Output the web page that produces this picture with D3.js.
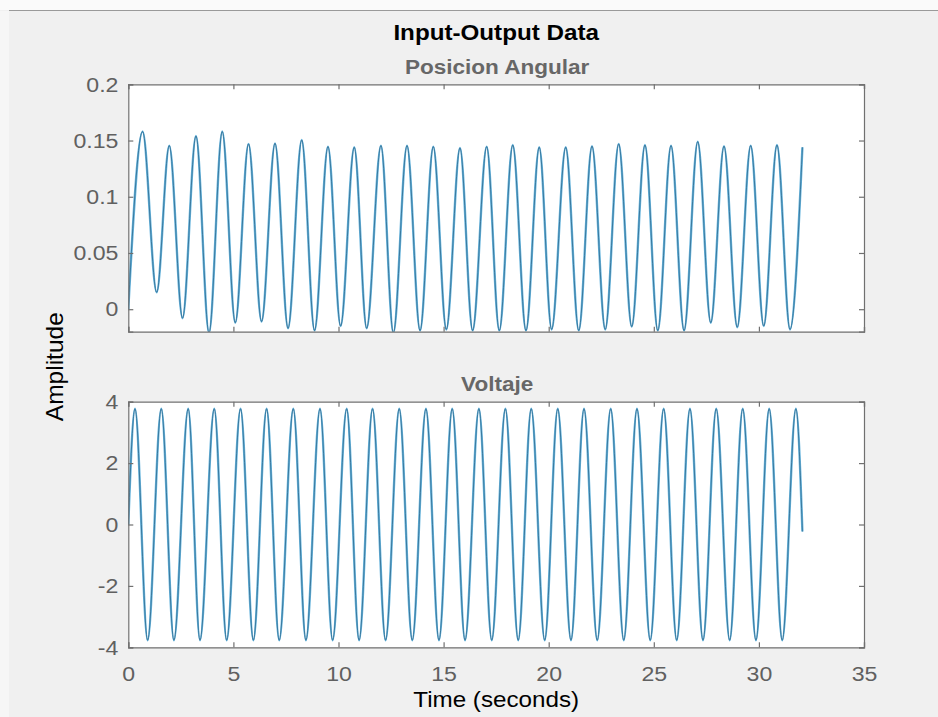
<!DOCTYPE html>
<html>
<head>
<meta charset="utf-8">
<script src="https://cdn.jsdelivr.net/npm/d3@7"></script>
<style>
  body { margin: 0; background: #f0f0f0; }
  svg { display: block; }
  text { font-family: "Liberation Sans", Arial, sans-serif; }
</style>
</head>
<body>
<svg></svg>
<script>
// x axis ticks (shared)
var timeTicks = [0, 5, 10, 15, 20, 25, 30, 35];

// Posicion Angular: start, peaks/troughs, end
var posTime = [0, 0.68, 1.35, 1.95, 2.58, 3.22, 3.84, 4.47, 5.09, 5.72, 6.34, 6.98, 7.60, 8.25, 8.86, 9.50, 10.10, 10.75, 11.34, 12.02, 12.61, 13.26, 13.88, 14.51, 15.13, 15.78, 16.38, 17.05, 17.65, 18.29, 18.92, 19.55, 20.14, 20.81, 21.43, 22.06, 22.69, 23.33, 23.95, 24.58, 25.19, 25.82, 26.44, 27.09, 27.71, 28.34, 28.97, 29.61, 30.23, 30.86, 31.48, 32.07];
var posValue = [0, 0.158, 0.015, 0.1455, -0.008, 0.154, -0.021, 0.158, -0.012, 0.147, -0.011, 0.1475, -0.017, 0.1505, -0.019, 0.1446, -0.015, 0.144, -0.017, 0.1455, -0.021, 0.1455, -0.019, 0.1446, -0.018, 0.1434, -0.019, 0.1446, -0.019, 0.146, -0.019, 0.144, -0.018, 0.144, -0.019, 0.145, -0.018, 0.147, -0.0155, 0.146, -0.019, 0.1455, -0.019, 0.149, -0.012, 0.145, -0.016, 0.1455, -0.015, 0.146, -0.018, 0.144];
var posTicks = [0, 0.05, 0.1, 0.15, 0.2];
var posTickLabels = ["0", "0.05", "0.1", "0.15", "0.2"];

// Voltaje: start, peaks/troughs, end
var volTime = [0, 0.32, 0.92, 1.57, 2.17, 2.85, 3.41, 4.09, 4.68, 5.34, 5.95, 6.58, 7.18, 7.85, 8.45, 9.12, 9.72, 10.39, 10.98, 11.62, 12.24, 12.89, 13.51, 14.16, 14.78, 15.41, 16.02, 16.68, 17.29, 17.94, 18.55, 19.17, 19.81, 20.43, 21.06, 21.68, 22.31, 22.95, 23.57, 24.20, 24.83, 25.47, 26.09, 26.72, 27.34, 27.97, 28.61, 29.23, 29.86, 30.49, 31.11, 31.76, 32.07];
var volValue = [0, 3.77, -3.77, 3.77, -3.77, 3.77, -3.77, 3.77, -3.77, 3.77, -3.77, 3.77, -3.77, 3.77, -3.77, 3.77, -3.77, 3.77, -3.77, 3.77, -3.77, 3.77, -3.77, 3.77, -3.77, 3.77, -3.77, 3.77, -3.77, 3.77, -3.77, 3.77, -3.77, 3.77, -3.77, 3.77, -3.77, 3.77, -3.77, 3.77, -3.77, 3.77, -3.77, 3.77, -3.77, 3.77, -3.77, 3.77, -3.77, 3.77, -3.77, 3.77, -0.23];
var volTicks = [-4, -2, 0, 2, 4];

var screen = { width: 938, height: 717 };

var plotLeft = 128.3;
var plotRight = 864;
var topPlot = { top: 84.3, bottom: 331.7 };
var botPlot = { top: 401.7, bottom: 647.3 };

var axisGray = "#707070";
var textGray = "#606060";
var stretch = "scale(1.1,1)"; //reference text is a bit wider than Liberation Sans

var svg = d3.select("svg")
            .attr("width", screen.width)
            .attr("height", screen.height);

// window chrome at top + light strip at left
svg.append("rect").attr("x", 0).attr("y", 0).attr("width", screen.width).attr("height", 10).attr("fill", "#fafafa");
svg.append("line").attr("x1", 9).attr("x2", screen.width).attr("y1", 10.5).attr("y2", 10.5)
   .attr("stroke", "#9a9a9a").attr("stroke-width", 1);
svg.append("rect").attr("x", 0).attr("y", 11).attr("width", 9).attr("height", screen.height).attr("fill", "#f6f6f6");

var xScale = d3.scaleLinear()
               .domain([0, 35])
               .range([plotLeft, plotRight]);

var drawPanel = function(panel, yDomain, yTicks, yLabels, times, values, name, showX)
{
  var yScale = d3.scaleLinear()
                 .domain(yDomain)
                 .range([panel.bottom, panel.top]);

  svg.append("rect")
     .attr("x", plotLeft)
     .attr("y", panel.top)
     .attr("width", plotRight - plotLeft)
     .attr("height", panel.bottom - panel.top)
     .attr("fill", "#ffffff");

  svg.append("clipPath")
     .attr("id", "clip-" + name)
     .append("rect")
     .attr("x", plotLeft)
     .attr("y", panel.top)
     .attr("width", plotRight - plotLeft)
     .attr("height", panel.bottom - panel.top);

  var points = times.map(function(t, i) {return [t, values[i]];});

  var line = d3.line()
               .x(function(d) {return xScale(d[0]);})
               .y(function(d) {return yScale(d[1]);})
               .curve(d3.curveMonotoneX);

  var g = svg.append("g").attr("clip-path", "url(#clip-" + name + ")");

  //light blue body
  g.append("path")
   .datum(points)
   .attr("d", line)
   .attr("fill", "none")
   .attr("stroke", "#6ab6de")
   .attr("stroke-width", 2.4);

  //dark core
  g.append("path")
   .datum(points)
   .attr("d", line)
   .attr("fill", "none")
   .attr("stroke", "#2d6a8e")
   .attr("stroke-width", 0.8);

  //axes, ticks point inward
  var bottomAxis = d3.axisBottom(xScale).tickValues(timeTicks).tickSize(-5).tickPadding(10);
  if (!showX) bottomAxis.tickFormat("");
  var topAxis = d3.axisTop(xScale).tickValues(timeTicks).tickSize(-5).tickFormat("");
  var leftAxis = d3.axisLeft(yScale).tickValues(yTicks).tickSize(-5).tickPadding(9)
                   .tickFormat(function(d, i) {return yLabels[i];});
  var rightAxis = d3.axisRight(yScale).tickValues(yTicks).tickSize(-5).tickFormat("");

  var axes = [
    [bottomAxis, "translate(0," + panel.bottom + ")"],
    [topAxis, "translate(0," + panel.top + ")"],
    [leftAxis, "translate(" + plotLeft + ",0)"],
    [rightAxis, "translate(" + plotRight + ",0)"]
  ];

  axes.forEach(function(a) {
    var ag = svg.append("g")
                .attr("transform", a[1])
                .call(a[0]);
    ag.select(".domain").attr("stroke", axisGray).attr("stroke-width", 1.2);
    ag.selectAll(".tick line").attr("stroke", axisGray).attr("stroke-width", 1.2);
    ag.selectAll(".tick text")
      .attr("fill", textGray)
      .attr("transform", stretch)
      .style("font-size", "21px")
      .style("font-family", "'Liberation Sans', Arial, sans-serif");
  });

  return yScale;
}

drawPanel(topPlot, [-0.02, 0.2], posTicks, posTickLabels, posTime, posValue, "pos", false);
drawPanel(botPlot, [-4, 4], volTicks, volTicks.map(String), volTime, volValue, "vol", true);

// x tick labels sit a bit lower in the reference
svg.selectAll("text").filter(function() {return this.getAttribute("dy") == "0.71em";})
   .attr("y", 19);

//titles
var centerX = (plotLeft + plotRight) / 2;

var addText = function(x, y, size, weight, color, label)
{
  svg.append("text")
     .attr("transform", "translate(" + x + "," + y + ") " + stretch)
     .attr("text-anchor", "middle")
     .style("font-size", size)
     .style("font-weight", weight)
     .attr("fill", color)
     .text(label);
}

addText(centerX, 40, "22px", "bold", "#000000", "Input-Output Data");
addText(centerX + 1, 74, "20.5px", "bold", "#676767", "Posicion Angular");
addText(centerX + 1, 391, "20.5px", "bold", "#676767", "Voltaje");
addText(centerX, 707, "22px", "normal", "#000000", "Time (seconds)");

//y label (rotated)
svg.append("text")
   .attr("transform", "translate(63," + ((topPlot.bottom + botPlot.top) / 2) + ") rotate(-90)")
   .attr("text-anchor", "middle")
   .style("font-size", "24.5px")
   .attr("fill", "#000000")
   .text("Amplitude");
</script>
</body>
</html>
